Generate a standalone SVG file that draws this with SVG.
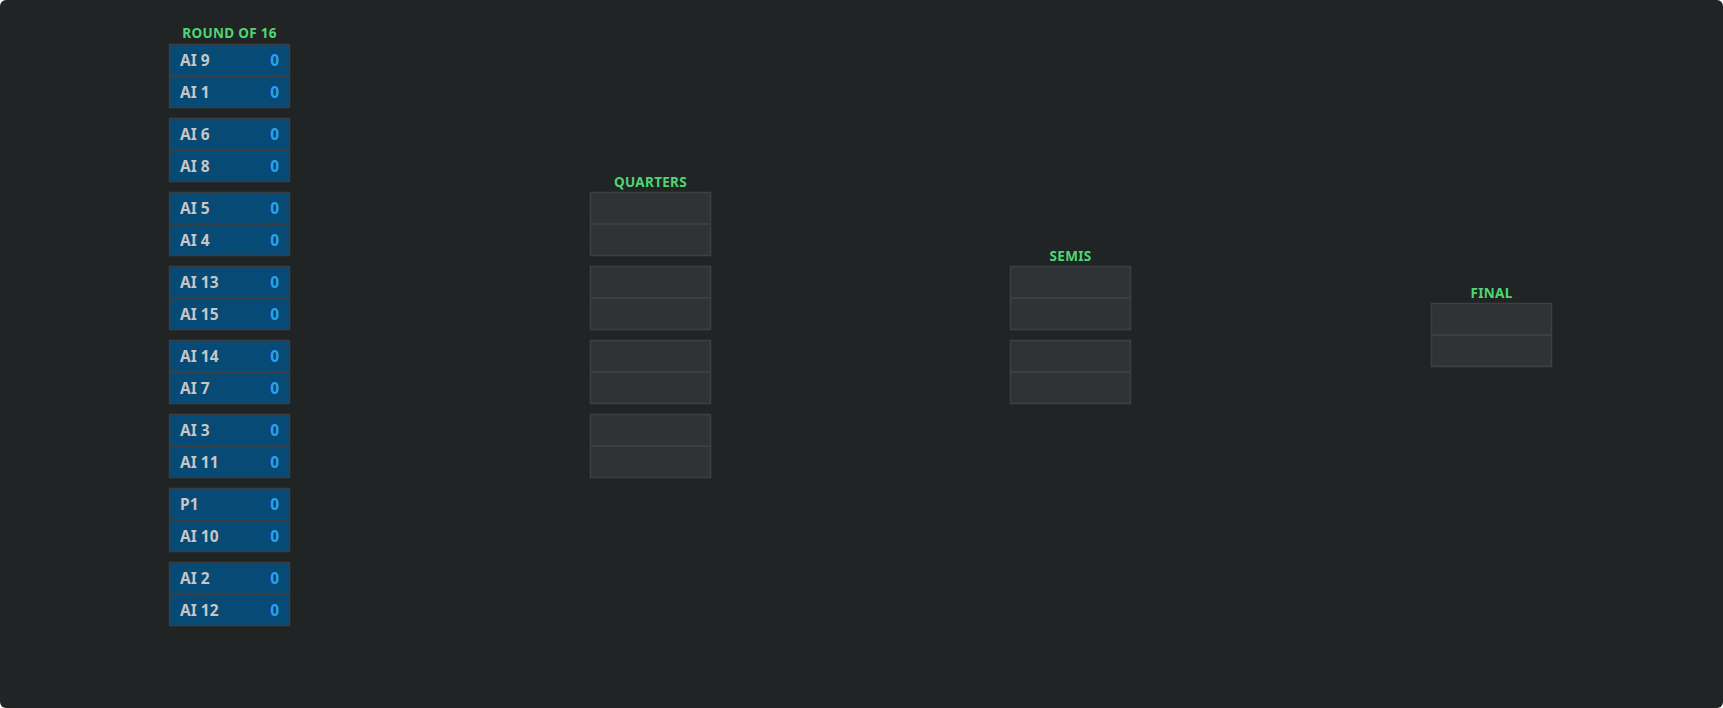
<svg xmlns="http://www.w3.org/2000/svg" width="1723" height="708" viewBox="0 0 1723 708">
<style>
.hdr{font-family:"Noto Sans","Open Sans","DejaVu Sans",sans-serif;font-weight:700;font-size:13.5px;letter-spacing:0.3px;fill:#4fd672;text-anchor:middle}
.nm{font-family:"Noto Sans","Open Sans","DejaVu Sans",sans-serif;font-weight:700;font-size:15.5px;fill:#c6c6c6}
.sc{font-family:"Noto Sans","Open Sans","DejaVu Sans",sans-serif;font-weight:700;font-size:15.5px;fill:#2ea0f0;text-anchor:end}
.mb{fill:#064a75;stroke:#3a3f44;stroke-width:1.5}
.eb{fill:#2f3336;stroke:#3c4043;stroke-width:1.5}
.dv{stroke:#3a3f44;stroke-width:2}
</style>
<rect width="1723" height="708" fill="#ffffff"/>
<rect width="1723" height="708" rx="6" fill="#212425"/>
<g id="headers">
<text class="hdr" x="229.5" y="37.5">ROUND OF 16</text>
<text class="hdr" x="650.5" y="186.5">QUARTERS</text>
<text class="hdr" x="1070.5" y="260.5">SEMIS</text>
<text class="hdr" x="1491.5" y="297.5">FINAL</text>
</g>
<g id="connectors"></g>
<g id="r16-1"><rect class="mb" x="169.5" y="44.5" width="120" height="63"/><line class="dv" x1="170" y1="76" x2="289" y2="76"/><text class="nm" x="180" y="65.5">AI 9</text><text class="sc" x="279" y="65.5">0</text><text class="nm" x="180" y="97.5">AI 1</text><text class="sc" x="279" y="97.5">0</text></g>
<g id="r16-2"><rect class="mb" x="169.5" y="118.5" width="120" height="63"/><line class="dv" x1="170" y1="150" x2="289" y2="150"/><text class="nm" x="180" y="139.5">AI 6</text><text class="sc" x="279" y="139.5">0</text><text class="nm" x="180" y="171.5">AI 8</text><text class="sc" x="279" y="171.5">0</text></g>
<g id="r16-3"><rect class="mb" x="169.5" y="192.5" width="120" height="63"/><line class="dv" x1="170" y1="224" x2="289" y2="224"/><text class="nm" x="180" y="213.5">AI 5</text><text class="sc" x="279" y="213.5">0</text><text class="nm" x="180" y="245.5">AI 4</text><text class="sc" x="279" y="245.5">0</text></g>
<g id="r16-4"><rect class="mb" x="169.5" y="266.5" width="120" height="63"/><line class="dv" x1="170" y1="298" x2="289" y2="298"/><text class="nm" x="180" y="287.5">AI 13</text><text class="sc" x="279" y="287.5">0</text><text class="nm" x="180" y="319.5">AI 15</text><text class="sc" x="279" y="319.5">0</text></g>
<g id="r16-5"><rect class="mb" x="169.5" y="340.5" width="120" height="63"/><line class="dv" x1="170" y1="372" x2="289" y2="372"/><text class="nm" x="180" y="361.5">AI 14</text><text class="sc" x="279" y="361.5">0</text><text class="nm" x="180" y="393.5">AI 7</text><text class="sc" x="279" y="393.5">0</text></g>
<g id="r16-6"><rect class="mb" x="169.5" y="414.5" width="120" height="63"/><line class="dv" x1="170" y1="446" x2="289" y2="446"/><text class="nm" x="180" y="435.5">AI 3</text><text class="sc" x="279" y="435.5">0</text><text class="nm" x="180" y="467.5">AI 11</text><text class="sc" x="279" y="467.5">0</text></g>
<g id="r16-7"><rect class="mb" x="169.5" y="488.5" width="120" height="63"/><line class="dv" x1="170" y1="520" x2="289" y2="520"/><text class="nm" x="180" y="509.5">P1</text><text class="sc" x="279" y="509.5">0</text><text class="nm" x="180" y="541.5">AI 10</text><text class="sc" x="279" y="541.5">0</text></g>
<g id="r16-8"><rect class="mb" x="169.5" y="562.5" width="120" height="63"/><line class="dv" x1="170" y1="594" x2="289" y2="594"/><text class="nm" x="180" y="583.5">AI 2</text><text class="sc" x="279" y="583.5">0</text><text class="nm" x="180" y="615.5">AI 12</text><text class="sc" x="279" y="615.5">0</text></g>
<g id="qf-1"><rect class="eb" x="590.5" y="192.5" width="120" height="63"/><line class="dv" x1="591" y1="224" x2="710" y2="224"/></g>
<g id="qf-2"><rect class="eb" x="590.5" y="266.5" width="120" height="63"/><line class="dv" x1="591" y1="298" x2="710" y2="298"/></g>
<g id="qf-3"><rect class="eb" x="590.5" y="340.5" width="120" height="63"/><line class="dv" x1="591" y1="372" x2="710" y2="372"/></g>
<g id="qf-4"><rect class="eb" x="590.5" y="414.5" width="120" height="63"/><line class="dv" x1="591" y1="446" x2="710" y2="446"/></g>
<g id="sf-1"><rect class="eb" x="1010.5" y="266.5" width="120" height="63"/><line class="dv" x1="1011" y1="298" x2="1130" y2="298"/></g>
<g id="sf-2"><rect class="eb" x="1010.5" y="340.5" width="120" height="63"/><line class="dv" x1="1011" y1="372" x2="1130" y2="372"/></g>
<g id="final"><rect class="eb" x="1431.5" y="303.5" width="120" height="63"/><line class="dv" x1="1432" y1="335" x2="1551" y2="335"/></g>
</svg>
